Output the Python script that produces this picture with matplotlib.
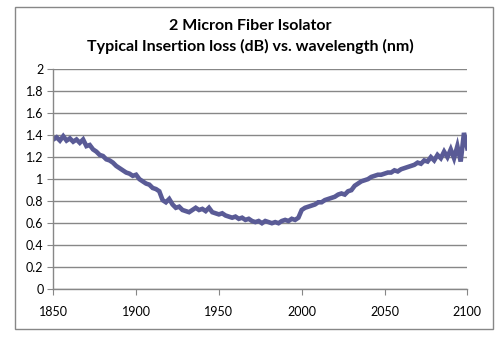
import matplotlib
matplotlib.use("Agg")
import matplotlib.pyplot as plt
from matplotlib.patches import Rectangle

wavelength = [1850, 1852, 1854, 1856, 1858, 1860, 1862, 1864, 1866, 1868,
              1870, 1872, 1874, 1876, 1878, 1880, 1882, 1884, 1886, 1888,
              1890, 1892, 1894, 1896, 1898, 1900, 1902, 1904, 1906, 1908,
              1910, 1912, 1914, 1916, 1918, 1920, 1922, 1924, 1926, 1928,
              1930, 1932, 1934, 1936, 1938, 1940, 1942, 1944, 1946, 1948,
              1950, 1952, 1954, 1956, 1958, 1960, 1962, 1964, 1966, 1968,
              1970, 1972, 1974, 1976, 1978, 1980, 1982, 1984, 1986, 1988,
              1990, 1992, 1994, 1996, 1998, 2000, 2002, 2004, 2006, 2008,
              2010, 2012, 2014, 2016, 2018, 2020, 2022, 2024, 2026, 2028,
              2030, 2032, 2034, 2036, 2038, 2040, 2042, 2044, 2046, 2048,
              2050, 2052, 2054, 2056, 2058, 2060, 2062, 2064, 2066, 2068,
              2070, 2072, 2074, 2076, 2078, 2080, 2082, 2084, 2086, 2088,
              2090, 2092, 2094, 2096, 2098, 2100]

loss_db = [1.36, 1.38, 1.35, 1.39, 1.35, 1.37, 1.34, 1.36, 1.33, 1.36,
           1.30, 1.31, 1.27, 1.25, 1.22, 1.21, 1.18, 1.17, 1.15, 1.12,
           1.10, 1.08, 1.06, 1.05, 1.03, 1.04, 1.00, 0.98, 0.96, 0.95,
           0.92, 0.91, 0.89, 0.81, 0.79, 0.82, 0.77, 0.74, 0.75, 0.72,
           0.71, 0.70, 0.72, 0.74, 0.72, 0.73, 0.71, 0.74, 0.70, 0.69,
           0.68, 0.69, 0.67, 0.66, 0.65, 0.66, 0.64, 0.65, 0.63, 0.64,
           0.62, 0.61, 0.62, 0.60, 0.62, 0.61, 0.60, 0.61, 0.60, 0.62,
           0.63, 0.62, 0.64, 0.63, 0.65, 0.72, 0.74, 0.75, 0.76, 0.77,
           0.79, 0.79, 0.81, 0.82, 0.83, 0.84, 0.86, 0.87, 0.86, 0.89,
           0.90, 0.94, 0.96, 0.98, 0.99, 1.00, 1.02, 1.03, 1.04, 1.04,
           1.05, 1.06, 1.06, 1.08, 1.07, 1.09, 1.10, 1.11, 1.12, 1.13,
           1.15, 1.14, 1.17, 1.16, 1.20, 1.17, 1.22, 1.19, 1.25, 1.20,
           1.27, 1.19, 1.30, 1.16, 1.42, 1.28]

x_ticks = [1850, 1900, 1950, 2000, 2050, 2100]
y_ticks = [0, 0.2, 0.4, 0.6, 0.8, 1, 1.2, 1.4, 1.6, 1.8, 2]
y_labels = ["0", "0.2", "0.4", "0.6", "0.8", "1", "1.2", "1.4", "1.6", "1.8", "2"]
title = "2 Micron Fiber Isolator\nTypical Insertion loss (dB) vs. wavelength (nm)"

plt.rcParams['font.family'] = ['Lato', 'DejaVu Sans']
gray = "#878787"
line_color = "#5a5b96"

fig = plt.figure(figsize=(5.03, 3.42), dpi=100)
fig.patches.append(Rectangle((15 / 503, 1 - 329 / 342), (493 - 15) / 503, (329 - 7) / 342,
                             transform=fig.transFigure, fill=False, edgecolor=gray, lw=1.0))

ax = fig.add_axes([53.3 / 503, 1 - 289.3 / 342, (467.3 - 53.3) / 503, (289.3 - 69) / 342])
ax.plot(wavelength, loss_db, color=line_color, lw=3.3, solid_joinstyle='miter')

ax.set_xlim(1850, 2100)
ax.set_ylim(0, 2)
ax.set_xticks(x_ticks)
ax.set_yticks(y_ticks)
ax.set_yticklabels(y_labels)
ax.grid(axis='y', color=gray, lw=1.0)
ax.set_axisbelow(True)
for s in ['top', 'right']:
    ax.spines[s].set_visible(False)
for s in ['left', 'bottom']:
    ax.spines[s].set_color(gray)
    ax.spines[s].set_linewidth(1.0)
ax.tick_params(axis='both', direction='out', length=4, color=gray, labelsize=9, labelcolor='black')
ax.tick_params(axis='y', pad=3)
ax.tick_params(axis='x', pad=8)

fig.text(0.497, 0.893, title, ha='center', va='center', fontsize=11.5, fontweight='bold',
         linespacing=1.45)

fig.savefig("out.png", dpi=100)
